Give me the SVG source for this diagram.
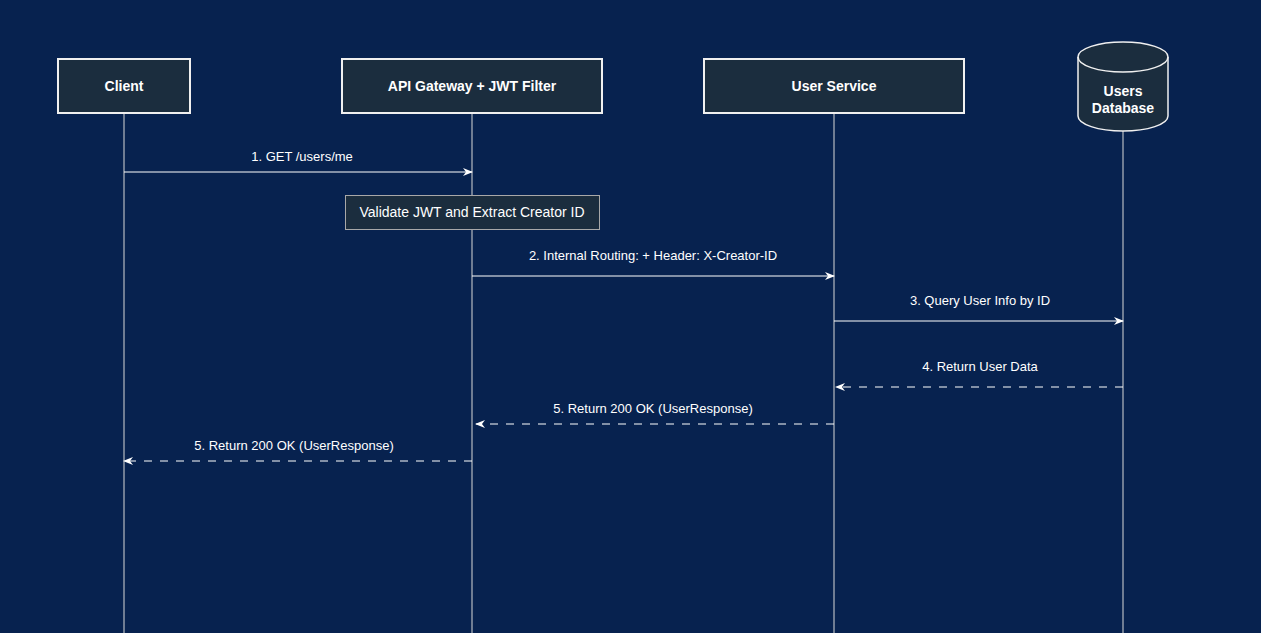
<svg xmlns="http://www.w3.org/2000/svg" width="1261" height="633" viewBox="0 0 1261 633">
<defs>
<marker id="arr" viewBox="0 0 10 10" refX="9" refY="5" markerWidth="10" markerHeight="10" markerUnits="userSpaceOnUse" orient="auto">
<path d="M0,1 L10,5 L0,9 L3,5 Z" fill="#ffffff"/>
</marker>
</defs>
<style>
.node{fill:#1b2d3e;stroke:#f0f0f0;stroke-width:2}
.nlabel{font-family:"Liberation Sans",Arial,sans-serif;font-size:14px;font-weight:bold;fill:#ffffff;text-anchor:middle}
.life{stroke:#d8d8d8;stroke-width:1;fill:none}
.msg{stroke:#ffffff;stroke-width:1;fill:none;marker-end:url(#arr)}
.ret{stroke-dasharray:8 8}
.mlabel{font-family:"Liberation Sans",Arial,sans-serif;font-size:13px;fill:#ffffff;text-anchor:middle}
.note{fill:#1b2d3e;stroke:#a8a8a8;stroke-width:1}
</style>
<rect width="1261" height="633" fill="#07224f"/>
<g id="lifelines">
<line class="life" x1="124" y1="113" x2="124" y2="633"/>
<line class="life" x1="472" y1="113" x2="472" y2="633"/>
<line class="life" x1="834" y1="113" x2="834" y2="633"/>
<line class="life" x1="1123" y1="131" x2="1123" y2="633"/>
</g>
<g id="client">
<rect class="node" x="58" y="59" width="132" height="54"/>
<text class="nlabel" x="124" y="91">Client</text>
</g>
<g id="gateway">
<rect class="node" x="342" y="59" width="260" height="54"/>
<text class="nlabel" x="472" y="91">API Gateway + JWT Filter</text>
</g>
<g id="userservice">
<rect class="node" x="704" y="59" width="260" height="54"/>
<text class="nlabel" x="834" y="91">User Service</text>
</g>
<g id="usersdb">
<path class="node" style="stroke-width:1.5" d="M1078,57 A45,15 0 0 1 1168,57 L1168,116 A45,15 0 0 1 1078,116 Z"/>
<path d="M1078,57 A45,15 0 0 0 1168,57" fill="none" stroke="#f0f0f0" stroke-width="1.5"/>
<text class="nlabel" x="1123" y="96">Users</text>
<text class="nlabel" x="1123" y="113">Database</text>
</g>
<g id="validate-note">
<rect class="note" x="345.5" y="195.5" width="254" height="34"/>
<text class="mlabel" style="font-size:14px" x="472" y="217">Validate JWT and Extract Creator ID</text>
</g>
<g id="connectors">
<line class="msg" x1="124" y1="172" x2="472" y2="172"/>
<text class="mlabel" x="302" y="161">1. GET /users/me</text>
<line class="msg" x1="472" y1="276" x2="834" y2="276"/>
<text class="mlabel" x="653" y="260">2. Internal Routing: + Header: X-Creator-ID</text>
<line class="msg" x1="834" y1="321" x2="1123" y2="321"/>
<text class="mlabel" x="980" y="305">3. Query User Info by ID</text>
<line class="msg ret" x1="1123" y1="387" x2="836" y2="387"/>
<text class="mlabel" x="980" y="371">4. Return User Data</text>
<line class="msg ret" x1="834" y1="424" x2="476" y2="424"/>
<text class="mlabel" x="653" y="413">5. Return 200 OK (UserResponse)</text>
<line class="msg ret" x1="472" y1="461" x2="124" y2="461"/>
<text class="mlabel" x="294" y="450">5. Return 200 OK (UserResponse)</text>
</g>
</svg>
